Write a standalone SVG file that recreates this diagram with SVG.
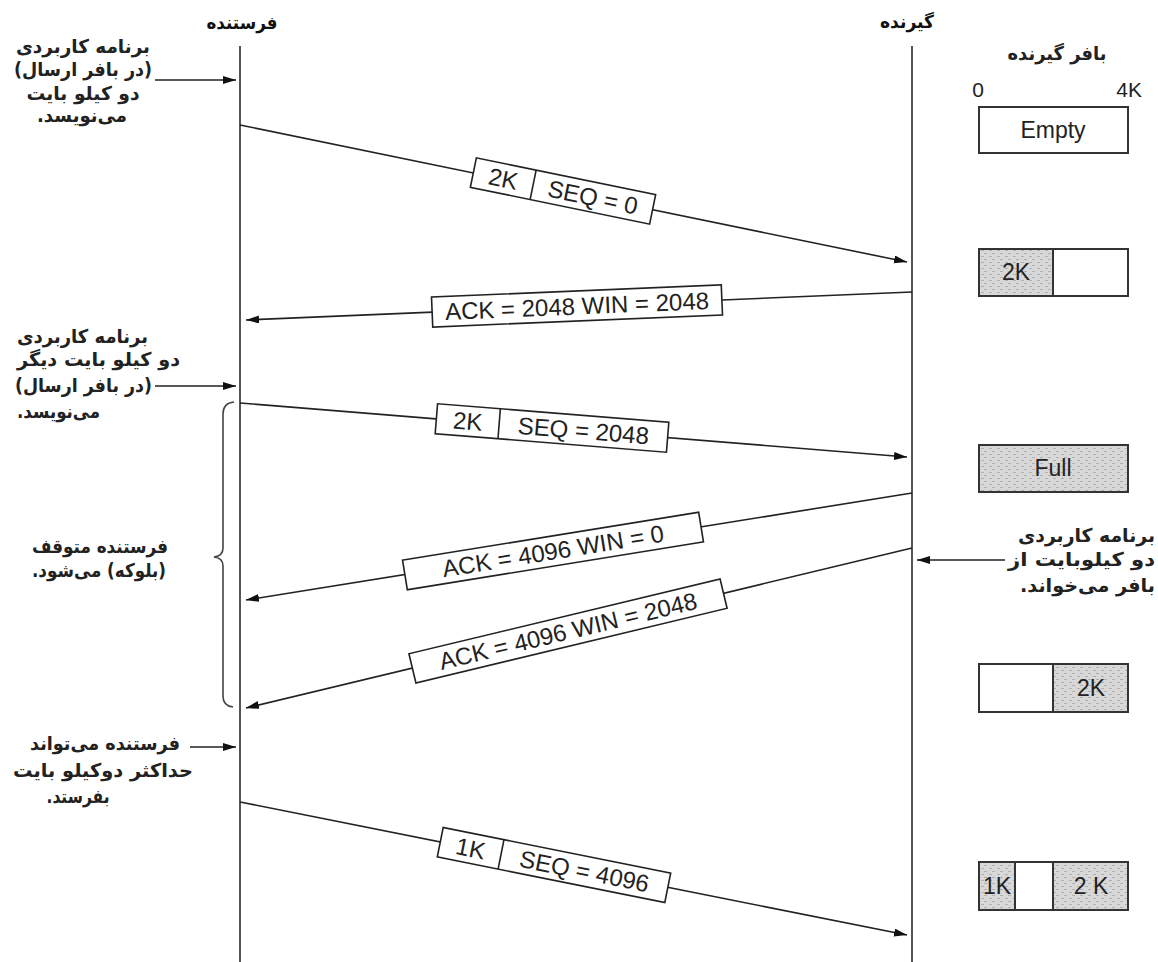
<svg xmlns="http://www.w3.org/2000/svg" width="1158" height="962" viewBox="0 0 1158 962">
  <defs>
    <marker id="arrow" markerUnits="userSpaceOnUse" markerWidth="14" markerHeight="10" refX="13" refY="4" orient="auto">
      <path d="M0,0 L13,4 L0,8 z" fill="#111"/>
    </marker>
    <pattern id="stipple" width="8" height="6" patternUnits="userSpaceOnUse">
      <rect width="8" height="6" fill="#d8d8d8"/>
      <path d="M0,1.5 h3 M5,4.5 h3" stroke="#b0b0b0" stroke-width="1"/>
    </pattern>
    <style>
      .life { stroke: #555; stroke-width: 2; fill: none; }
      .msg { stroke: #222; stroke-width: 1.6; fill: none; marker-end: url(#arrow); }
      .side { stroke: #222; stroke-width: 1.6; fill: none; marker-end: url(#arrow); }
      .brace { stroke: #444; stroke-width: 1.6; fill: none; }
      .lbl rect, .lbl line { fill: #fff; stroke: #222; stroke-width: 1.6; }
      .lbl text { font-family: "Liberation Sans", Arial, sans-serif; font-size: 24px; fill: #222; text-anchor: middle; dominant-baseline: central; }
      .fa { font-family: "DejaVu Sans", "Noto Sans", sans-serif; font-weight: bold; font-size: 19px; fill: #222; direction: rtl; }
      .title { font-family: "DejaVu Sans", "Noto Sans", sans-serif; font-weight: bold; font-size: 18px; fill: #111; direction: rtl; text-anchor: middle; }
      .buf { fill: #fff; stroke: #333; stroke-width: 2; }
      .shade { fill: url(#stipple); stroke: #333; stroke-width: 2; }
      .bt { font-family: "Liberation Sans", Arial, sans-serif; font-size: 23px; fill: #222; text-anchor: middle; dominant-baseline: central; }
      .scale { font-family: "Liberation Sans", Arial, sans-serif; font-size: 21px; fill: #222; }
    </style>
  </defs>

  <rect width="1158" height="962" fill="#fff"/>

  <!-- hosts and their timelines -->
  <g id="sender">
    <text class="title" x="242" y="29" textLength="71" lengthAdjust="spacingAndGlyphs">فرستنده</text>
    <line class="life" x1="240" y1="46" x2="240" y2="962"/>
  </g>
  <g id="receiver">
    <text class="title" x="907" y="28" textLength="54" lengthAdjust="spacingAndGlyphs">گیرنده</text>
    <line class="life" x1="912" y1="46" x2="912" y2="962"/>
  </g>

  <!-- receiver buffer states -->
  <g id="buffer-header">
    <text class="fa" x="1057" y="60" text-anchor="middle" font-size="16" textLength="99" lengthAdjust="spacingAndGlyphs">بافر گیرنده</text>
    <text class="scale" x="978" y="97" text-anchor="middle">0</text>
    <text class="scale" x="1142" y="97" text-anchor="end">4K</text>
  </g>
  <g id="buffer-empty">
    <rect class="buf" x="979" y="107" width="149" height="46"/>
    <text class="bt" x="1053" y="130" font-size="24">Empty</text>
  </g>
  <g id="buffer-2k">
    <rect class="buf" x="979" y="249" width="149" height="47"/>
    <rect class="shade" x="979" y="249" width="74" height="47"/>
    <text class="bt" x="1016" y="272">2K</text>
  </g>
  <g id="buffer-full">
    <rect class="shade" x="979" y="445" width="149" height="47"/>
    <text class="bt" x="1053" y="468">Full</text>
  </g>
  <g id="buffer-2k-read">
    <rect class="buf" x="979" y="664" width="149" height="48"/>
    <rect class="shade" x="1053" y="664" width="75" height="48"/>
    <text class="bt" x="1091" y="688">2K</text>
  </g>
  <g id="buffer-1k-2k">
    <rect class="buf" x="979" y="862" width="149" height="48"/>
    <rect class="shade" x="979" y="862" width="36" height="48"/>
    <rect class="shade" x="1053" y="862" width="75" height="48"/>
    <text class="bt" x="997" y="886">1K</text>
    <text class="bt" x="1091" y="886">2 K</text>
  </g>

  <!-- application notes -->
  <g id="note-write-1">
    <text class="fa" text-anchor="middle" x="83" y="53" textLength="134" lengthAdjust="spacingAndGlyphs">برنامه کاربردی</text>
    <text class="fa" text-anchor="middle" x="83" y="76" textLength="138" lengthAdjust="spacingAndGlyphs">(در بافر ارسال)</text>
    <text class="fa" text-anchor="middle" x="83" y="100" textLength="113" lengthAdjust="spacingAndGlyphs">دو کیلو بایت</text>
    <text class="fa" text-anchor="middle" x="82" y="122" textLength="90" lengthAdjust="spacingAndGlyphs">می‌نویسد.</text>
  </g>
  <g id="note-write-2">
    <text class="fa" text-anchor="end" x="17" y="343" textLength="131" lengthAdjust="spacingAndGlyphs">برنامه کاربردی</text>
    <text class="fa" text-anchor="end" x="17" y="366" textLength="163" lengthAdjust="spacingAndGlyphs">دو کیلو بایت دیگر</text>
    <text class="fa" text-anchor="end" x="15" y="392" textLength="137" lengthAdjust="spacingAndGlyphs">(در بافر ارسال)</text>
    <text class="fa" text-anchor="end" x="17" y="418" textLength="83" lengthAdjust="spacingAndGlyphs">می‌نویسد.</text>
  </g>
  <g id="note-blocked">
    <text class="fa" text-anchor="middle" x="100" y="553" textLength="136" lengthAdjust="spacingAndGlyphs">فرستنده متوقف</text>
    <text class="fa" text-anchor="middle" x="99" y="577" textLength="134" lengthAdjust="spacingAndGlyphs">(بلوکه) می‌شود.</text>
  </g>
  <g id="note-may-send">
    <text class="fa" text-anchor="middle" x="105" y="750" textLength="150" lengthAdjust="spacingAndGlyphs">فرستنده می‌تواند</text>
    <text class="fa" text-anchor="middle" x="103" y="777" textLength="180" lengthAdjust="spacingAndGlyphs">حداکثر دوکیلو بایت</text>
    <text class="fa" text-anchor="middle" x="78" y="803" textLength="63" lengthAdjust="spacingAndGlyphs">بفرستد.</text>
  </g>
  <g id="note-read">
    <text class="fa" text-anchor="start" x="1155" y="542" textLength="137" lengthAdjust="spacingAndGlyphs">برنامه کاربردی</text>
    <text class="fa" text-anchor="start" x="1155" y="566" textLength="147" lengthAdjust="spacingAndGlyphs">دو کیلوبایت از</text>
    <text class="fa" text-anchor="start" x="1155" y="592" textLength="135" lengthAdjust="spacingAndGlyphs">بافر می‌خواند.</text>
  </g>

  <!-- connectors: segments, acknowledgements and application arrows -->
  <g id="connectors">
    <line class="side" x1="155" y1="80" x2="236" y2="80"/>
    <line class="side" x1="155" y1="386" x2="236" y2="386"/>
    <line class="side" x1="190" y1="747" x2="236" y2="747"/>
    <line class="side" x1="1005" y1="560" x2="917" y2="560"/>
    <path class="brace" d="M234,402 Q223,403 223,414 L223,548 Q223,556 214,557 Q223,558 223,566 L223,696 Q223,706 233,707"/>

    <line class="msg" x1="240" y1="125" x2="907" y2="262"/>
    <line class="msg" x1="912" y1="292" x2="246" y2="320"/>
    <line class="msg" x1="240" y1="403" x2="907" y2="457"/>
    <line class="msg" x1="912" y1="493" x2="246" y2="600"/>
    <line class="msg" x1="912" y1="548" x2="246" y2="708"/>
    <line class="msg" x1="240" y1="802" x2="907" y2="935"/>
  </g>

  <!-- segment labels, rotated along their lines -->
  <g id="seg-1" class="lbl" transform="translate(563,191) rotate(11.6)">
    <rect x="-91.5" y="-15" width="183" height="30"/>
    <line x1="-30.5" y1="-15" x2="-30.5" y2="15"/>
    <text x="-61" y="0">2K</text>
    <text x="30.5" y="0">SEQ = 0</text>
  </g>
  <g id="ack-1" class="lbl" transform="translate(577,306) rotate(-2.4)">
    <rect x="-145" y="-15" width="290" height="30"/>
    <text x="0" y="0">ACK = 2048 WIN = 2048</text>
  </g>
  <g id="seg-2" class="lbl" transform="translate(552,428) rotate(4.6)">
    <rect x="-116" y="-15" width="232" height="30"/>
    <line x1="-53" y1="-15" x2="-53" y2="15"/>
    <text x="-84.5" y="0">2K</text>
    <text x="31.5" y="0">SEQ = 2048</text>
  </g>
  <g id="ack-2" class="lbl" transform="translate(553,551) rotate(-9.2)">
    <rect x="-150" y="-15" width="300" height="30"/>
    <text x="0" y="0">ACK = 4096 WIN = 0</text>
  </g>
  <g id="ack-3" class="lbl" transform="translate(568,631) rotate(-13.5)">
    <rect x="-160" y="-15" width="320" height="30"/>
    <text x="0" y="0">ACK = 4096 WIN = 2048</text>
  </g>
  <g id="seg-3" class="lbl" transform="translate(554,865) rotate(11.3)">
    <rect x="-116" y="-15" width="232" height="30"/>
    <line x1="-54" y1="-15" x2="-54" y2="15"/>
    <text x="-85" y="0">1K</text>
    <text x="31" y="0">SEQ = 4096</text>
  </g>
</svg>
